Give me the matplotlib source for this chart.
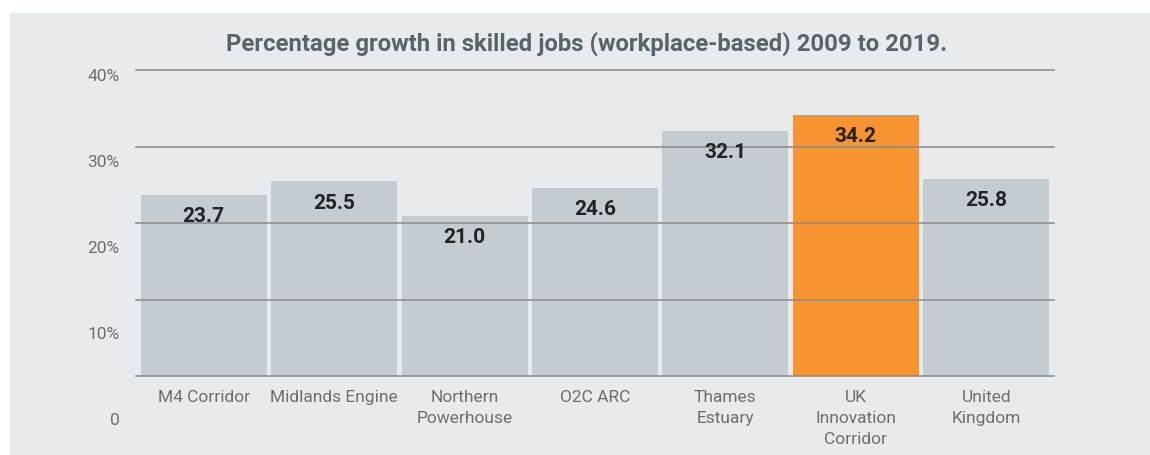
import matplotlib
matplotlib.use("Agg")
import matplotlib.pyplot as plt

categories = ["M4 Corridor", "Midlands Engine", "Northern\nPowerhouse", "O2C ARC",
              "Thames\nEstuary", "UK\nInnovation\nCorridor", "United\nKingdom"]
values = [23.7, 25.5, 21.0, 24.6, 32.1, 34.2, 25.8]
highlight = "UK\nInnovation\nCorridor"
y_ticks = [0, 10, 20, 30, 40]
y_tick_labels = ["0", "10%", "20%", "30%", "40%"]
title = "Percentage growth in skilled jobs (workplace-based) 2009 to 2019."

BG = "#e7ebee"
GRAY = "#c4ccd2"
ORANGE = "#f7942f"
GRID = "#8e8e8e"
W, H = 1150, 455

plt.rcParams['font.family'] = ['Roboto', 'DejaVu Sans']
fig = plt.figure(figsize=(W / 100, H / 100), dpi=100)
fig.patch.set_facecolor("white")
# background panel
fig.patches.append(plt.Rectangle((10 / W, 0), 1 - 10 / W, 1 - 13 / H,
                                 transform=fig.transFigure, facecolor=BG,
                                 edgecolor="none", zorder=-10))

def px_axes(x0, x1, ytop, ybot):
    return [x0 / W, (H - ybot) / H, (x1 - x0) / W, (ybot - ytop) / H]

ax = fig.add_axes(px_axes(136, 1054, 70.3, 376))
ax.set_facecolor("none")
x = list(range(len(categories)))
colors = [ORANGE if c == highlight else GRAY for c in categories]
ax.bar(x, values, width=0.965, color=colors, zorder=1)
ax.set_xlim(-0.52, len(categories) - 1 + 0.52)
ax.set_ylim(0, 40)
for t in y_ticks:
    ax.axhline(t, color=GRID, lw=1.2, zorder=3, clip_on=False)
for xi, v in zip(x, values):
    ax.annotate(f"{v:.1f}", xy=(xi, v), xytext=(0, -9), textcoords="offset points",
                ha="center", va="top", fontsize=15, fontweight="bold",
                color="#222222", zorder=4)
ax.set_yticks([])
ax.set_xticks(x)
ax.set_xticklabels(categories, fontsize=12.5, color="#6e6e6e", linespacing=1.5)
ax.tick_params(axis="x", length=0, pad=10)
for s in ax.spines.values():
    s.set_visible(False)

# y-axis labels (placed on their own scale, as in the reference)
ay = fig.add_axes(px_axes(136, 1054, 75, 419))
ay.set_facecolor("none")
ay.set_ylim(0, 40)
ay.set_yticks(y_ticks)
ay.set_yticklabels(y_tick_labels, fontsize=12.5, color="#6e6e6e")
ay.tick_params(axis="y", length=0, pad=12)
ay.set_xticks([])
for s in ay.spines.values():
    s.set_visible(False)

fig.text(587 / W, 1 - 44 / H, title, ha="center", va="center", fontsize=17.2,
         fontweight="bold", color="#58646b")

fig.savefig("out.png", dpi=100, facecolor="white")
